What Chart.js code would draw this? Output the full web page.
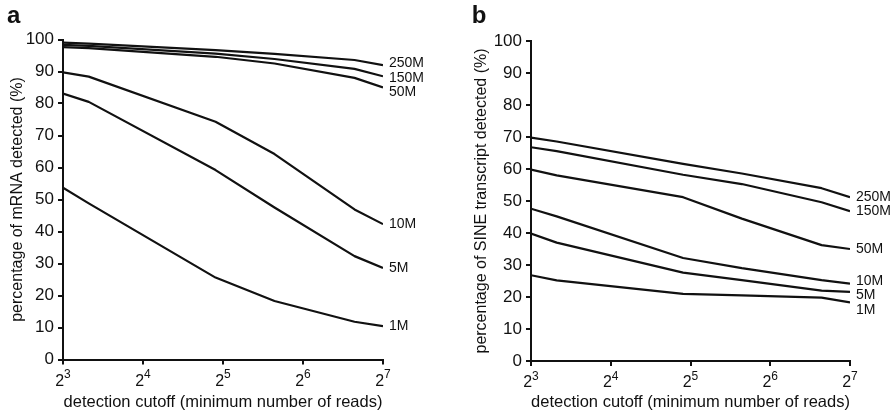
<!DOCTYPE html>
<html><head><meta charset="utf-8">
<script src="https://cdn.jsdelivr.net/npm/chart.js@4/dist/chart.umd.min.js"></script>
<style>
html,body{margin:0;padding:0;background:#fff;}
#wrap{position:relative;width:894px;height:418px;overflow:hidden;}
.pane{position:absolute;top:0;width:447px;height:418px;}
canvas{display:block;}
</style></head><body>
<div id="wrap">
<div class="pane" style="left:0"><canvas id="ca" width="447" height="418"></canvas></div>
<div class="pane" style="left:447px"><canvas id="cb" width="447" height="418"></canvas></div>
</div>
<script>
// detection cutoffs (minimum number of reads)
const cutoffs = [8, 10, 30, 50, 100, 128];
const seriesNames = ['250M', '150M', '50M', '10M', '5M', '1M'];

// panel a: percentage of mRNA detected (%)
const mrna250M = [99.0, 98.7, 96.7, 95.5, 93.6, 92.0];
const mrna150M = [98.3, 98.0, 95.6, 93.9, 90.8, 88.5];
const mrna50M  = [97.6, 97.3, 94.6, 92.5, 88.0, 85.0];
const mrna10M  = [89.7, 88.4, 74.3, 64.2, 46.9, 42.3];
const mrna5M   = [83.1, 80.5, 59.2, 47.5, 32.3, 28.6];
const mrna1M   = [53.7, 48.8, 25.6, 18.3, 11.8, 10.4];

// panel b: percentage of SINE transcript detected (%)
const sine250M = [69.8, 68.6, 61.6, 58.6, 54.0, 51.2];
const sine150M = [66.8, 65.6, 58.2, 55.3, 49.6, 46.8];
const sine50M  = [59.8, 58.0, 51.2, 44.5, 36.2, 35.0];
const sine10M  = [47.6, 45.2, 32.2, 29.0, 25.3, 24.2];
const sine5M   = [39.8, 37.0, 27.6, 25.3, 22.0, 21.6];
const sine1M   = [26.8, 25.2, 21.0, 20.5, 19.8, 18.3];

// axis ticks
const xTickValues = [8, 16, 32, 64, 128];
const xTickBase = '2';
const xTickExponents = ['3', '4', '5', '6', '7'];
const yMin = 0, yMax = 100, yStep = 10;

const FONT = '"Liberation Sans", Arial, Helvetica, sans-serif';

function placeLabels(ys, gap) {
  const items = ys.map((y, i) => ({ y, i }));
  items.sort((a, b) => a.y - b.y);
  const clusters = [];
  function top(c) {
    const n = c.items.length;
    if (n === 1) return c.items[0].y;
    const mean = c.items.reduce((s, it) => s + it.y, 0) / n;
    const centered = mean - (n - 1) * gap / 2;
    const pushed = c.items[0].y;
    return (centered + pushed) / 2;
  }
  for (const it of items) {
    clusters.push({ items: [it] });
    while (clusters.length > 1) {
      const c2 = clusters[clusters.length - 1], c1 = clusters[clusters.length - 2];
      const b1 = top(c1) + (c1.items.length - 1) * gap;
      if (top(c2) < b1 + gap) {
        c1.items = c1.items.concat(c2.items);
        clusters.pop();
      } else break;
    }
  }
  const out = new Array(ys.length);
  for (const c of clusters) {
    const t = top(c);
    c.items.forEach((it, k) => { out[it.i] = t + k * gap; });
  }
  return out;
}

function makePanel(canvasId, series, yTitle, letter, geo) {
  const datasets = series.map((vals, si) => ({
    label: seriesNames[si],
    data: vals.map((v, i) => ({ x: cutoffs[i], y: v })),
    borderColor: '#111',
    borderWidth: 2.2,
    pointRadius: 0,
    tension: 0,
    fill: false,
    borderJoinStyle: 'round'
  }));

  const decor = {
    id: 'decor' + canvasId,
    afterDraw(chart) {
      const ctx = chart.ctx;
      const xs = chart.scales.x, ys = chart.scales.y;
      const area = chart.chartArea;
      ctx.save();
      ctx.fillStyle = '#111';
      // x tick labels 2^n
      xTickValues.forEach((v, i) => {
        const px = xs.getPixelForValue(v);
        ctx.font = '16px ' + FONT;
        const wb = ctx.measureText(xTickBase).width;
        ctx.font = '12px ' + FONT;
        const we = ctx.measureText(xTickExponents[i]).width;
        const x0 = px - (wb + we) / 2;
        ctx.textAlign = 'left';
        ctx.textBaseline = 'alphabetic';
        ctx.font = '16px ' + FONT;
        ctx.fillText(xTickBase, x0, area.bottom + 26.3);
        ctx.font = '12px ' + FONT;
        ctx.fillText(xTickExponents[i], x0 + wb, area.bottom + 18.8);
      });
      // series labels at line ends
      const ends = series.map(vals => ys.getPixelForValue(vals[vals.length - 1]));
      const pos = placeLabels(ends, 14.5);
      ctx.font = '14px ' + FONT;
      ctx.textAlign = 'left';
      ctx.textBaseline = 'middle';
      seriesNames.forEach((n, i) => ctx.fillText(n, area.right + 6, pos[i]));
      // panel letter
      ctx.font = 'bold 24px ' + FONT;
      ctx.textBaseline = 'alphabetic';
      ctx.fillText(letter, geo.letterX, geo.letterY);
      ctx.restore();
    }
  };

  return new Chart(document.getElementById(canvasId), {
    type: 'line',
    data: { datasets },
    options: {
      responsive: false,
      animation: false,
      devicePixelRatio: 1,
      layout: { padding: { left: 0, right: geo.padRight, top: geo.padTop, bottom: 0 } },
      plugins: { legend: { display: false }, tooltip: { enabled: false } },
      scales: {
        x: {
          type: 'logarithmic',
          position: 'bottom',
          min: 8, max: 128,
          afterBuildTicks: s => { s.ticks = xTickValues.map(v => ({ value: v })); },
          afterFit: s => { s.height = geo.xHeight; },
          ticks: { display: false },
          grid: { drawOnChartArea: false, drawTicks: true, tickLength: 5, color: '#111', lineWidth: 2 },
          border: { display: true, color: '#111', width: 2 },
          title: {
            display: true, text: 'detection cutoff (minimum number of reads)',
            color: '#111', font: { family: FONT, size: 16.5 }, padding: { top: 0, bottom: 5.2 }
          }
        },
        y: {
          type: 'linear',
          min: yMin, max: yMax,
          afterFit: s => { s.width = geo.yWidth; },
          ticks: { stepSize: yStep, color: '#111', font: { family: FONT, size: 17 }, padding: 4 },
          grid: { drawOnChartArea: false, drawTicks: true, tickLength: 5, color: '#111', lineWidth: 2 },
          border: { display: true, color: '#111', width: 2 },
          title: {
            display: true, text: yTitle,
            color: '#111', font: { family: FONT, size: 16 }, padding: { top: geo.yTitlePad, bottom: 0 }
          }
        }
      }
    },
    plugins: [decor]
  });
}

makePanel('ca', [mrna250M, mrna150M, mrna50M, mrna10M, mrna5M, mrna1M],
  'percentage of mRNA detected (%)', 'a',
  { padRight: 64, padTop: 39.5, xHeight: 58.5, yWidth: 63, yTitlePad: 7.5, letterX: 7, letterY: 22.7 });
makePanel('cb', [sine250M, sine150M, sine50M, sine10M, sine5M, sine1M],
  'percentage of SINE transcript detected (%)', 'b',
  { padRight: 44, padTop: 41, xHeight: 57, yWidth: 84, yTitlePad: 24.5, letterX: 24.7, letterY: 23 });
</script>
</body></html>
